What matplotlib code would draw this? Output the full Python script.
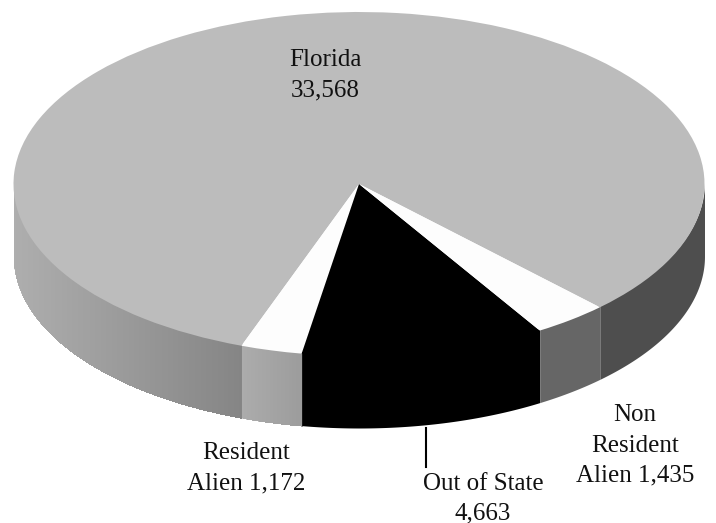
import numpy as np
import matplotlib
matplotlib.use('Agg')
import matplotlib.pyplot as plt

############################################
names = ['Florida', 'Resident Alien', 'Out of State', 'Non Resident Alien']
counts = [33568, 1172, 4663, 1435]
top_colors = ['#bcbcbc', '#fdfdfd', '#000000', '#fdfdfd']
############################################

W, H = 716, 523
CX, CY = 359, 184     # centre of the top ellipse, pixels
RX, RY = 345.5, 172   # ellipse radii, pixels
DEPTH = 72

plt.rcParams['font.family'] = ['Liberation Serif', 'DejaVu Serif']

fig = plt.figure(figsize=(W / 100, H / 100), dpi=100)
ax = fig.add_axes([0, 0, 1, 1])

wedges, _ = ax.pie(counts, colors=top_colors, startangle=-45.8, counterclock=True,
                   wedgeprops=dict(linewidth=0, zorder=3))

# pie is round, squash it so the unit circle becomes the ellipse
ax.set_aspect('auto')
ax.set_xlim(-CX / RX, (W - CX) / RX)
ax.set_ylim(-(H - CY) / RY, CY / RY)
ax.axis('off')
d = DEPTH / RY


def side(t1, t2, c1, c2):
    # wall of the disc from angle t1 to t2, grey goes from c1 to c2 left to right
    th = np.radians(np.linspace(t1, t2, 200))
    xs = np.cos(th)
    ys = np.sin(th)
    up = ys + 0.012   # runs a little under the top so no light hairline shows
    if c1 == c2:
        ax.fill_between(xs, ys - d, up, color=str(c1 / 255), linewidth=0, zorder=2)
        return
    # bands of grey, each one runs on under the next so no seams show
    for i in range(len(th) - 1):
        g = (c1 + (c2 - c1) * (xs[i] - xs[0]) / (xs[-1] - xs[0])) / 255
        ax.fill_between(xs[i:], (ys - d)[i:], up[i:], color=str(g), linewidth=0,
                        antialiased=False, zorder=2)


fl, res, out, non = wedges
side(180, fl.theta2, 174, 133)
side(res.theta1, res.theta2, 172, 156)
side(out.theta1, out.theta2, 0, 0)
side(non.theta1, non.theta2, 102, 102)
side(fl.theta1 + 360, 360, 78, 78)


def label(x, y, s):
    # y is the baseline of the line in pixels from the top
    fig.text(x / W, 1 - y / H, s, ha='center', va='baseline', fontsize=18, color='#111111')


label(325, 66, 'Florida')
label(325, 96, '33,568')
label(246, 459, 'Resident')
label(246, 489, 'Alien 1,172')
label(483, 490, 'Out of State')
label(483, 519, '4,663')
label(635, 421, 'Non')
label(635, 452, 'Resident')
label(635, 481, 'Alien 1,435')

# leader line below Out of State
fig.add_artist(plt.Line2D([426 / W, 426 / W], [1 - 428 / H, 1 - 467 / H], color='black', lw=1.5))

plt.savefig('out.png', dpi=100)
